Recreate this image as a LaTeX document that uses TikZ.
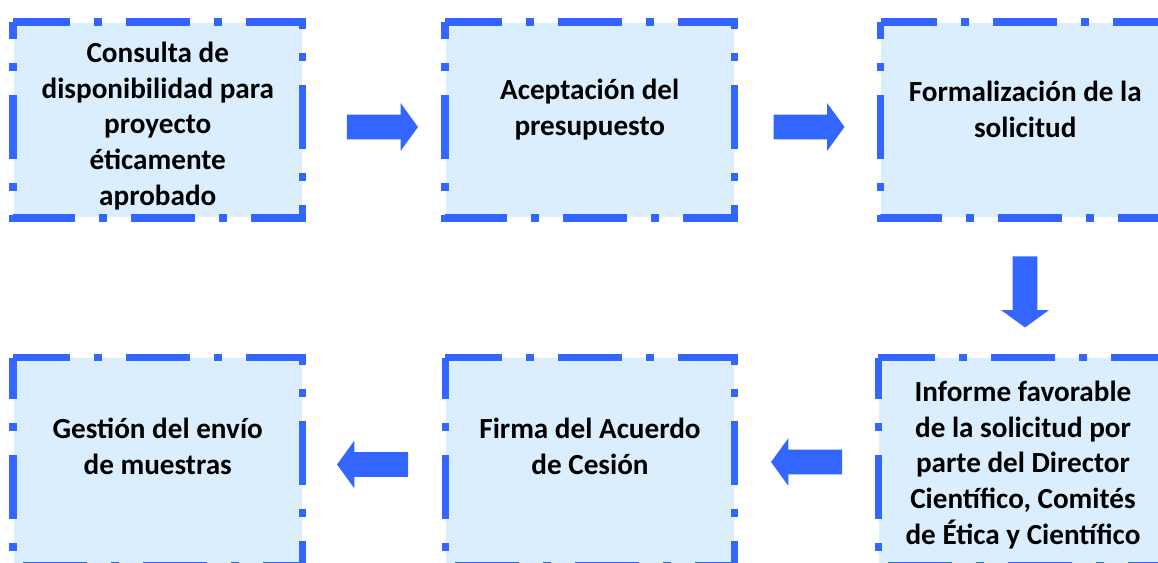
\documentclass[tikz,border=0pt]{standalone}
\usepackage{fontspec}
\setmainfont{Carlito}
\usetikzlibrary{shapes.arrows}
\definecolor{boxblue}{RGB}{51,102,255}
\definecolor{boxfill}{RGB}{218,238,253}

\begin{document}
\begin{tikzpicture}[x=0.02cm, y=-0.02cm,
    box/.style={rectangle, fill=boxfill, minimum width=5.77cm, minimum height=3.9cm, inner sep=0pt},
    tall/.style={minimum height=4.14cm},
    rim/.style={draw=boxblue, line width=0.15cm, dash pattern=on 1.28cm off 0.48cm on 0.16cm off 0.48cm, dash phase=0.15cm},
    txt/.style={font=\fontsize{16.6}{20.4}\selectfont\bfseries, align=center, inner sep=0pt},
    blk/.style={single arrow, fill=boxblue, minimum height=1.42cm, inner sep=0.24cm, single arrow head extend=0.23cm, single arrow tip angle=108}]
            \useasboundingbox (0,0) rectangle (1158,563);
            \node[box] (a) at (157.75,120) {};
            \node[box] (b) at (589.75,120) {};
            \node[box] (c) at (1025.25,120) {};
            \node[box,tall] (d) at (1023,461.5) {};
            \node[box,tall] (e) at (590,461.5) {};
            \node[box,tall] (f) at (157.75,461.5) {};
            \draw[rim] (a.north west) -- (a.north east) -- (a.south east) -- (a.south west) -- cycle;
            \draw[rim] (b.north west) -- (b.north east) -- (b.south east) -- (b.south west) -- cycle;
            \draw[rim] (c.north west) -- (c.north east) -- (c.south east) -- (c.south west) -- cycle;
            \draw[rim] (d.north west) -- (d.north east) -- (d.south east) -- (d.south west) -- cycle;
            \draw[rim] (e.north west) -- (e.north east) -- (e.south east) -- (e.south west) -- cycle;
            \draw[rim] (f.north west) -- (f.north east) -- (f.south east) -- (f.south west) -- cycle;
            \node[txt] (ta) at (157.75,126) {Consulta de\\disponibilidad para\\proyecto\\éticamente\\aprobado};
            \node[txt] (tb) at (589.75,109.5) {Aceptación del\\presupuesto};
            \node[txt] (tc) at (1025.25,109.5) {Formalización de la\\solicitud};
            \node[txt] (td) at (1023,465) {Informe favorable\\de la solicitud por\\parte del Director\\Científico, Comités\\de Ética y Científico};
            \node[txt] (te) at (590,446) {Firma del Acuerdo\\de Cesión};
            \node[txt] (tf) at (157.75,446) {Gestión del envío\\de muestras};
            \node[blk] (ab) at (378,127) {};
            \node[blk] (bc) at (804.5,127) {};
            \node[blk,shape border rotate=270] (cd) at (1025,287.5) {};
            \node[blk,shape border rotate=180] (de) at (811,462) {};
            \node[blk,shape border rotate=180] (ef) at (377,464.5) {};
        \end{tikzpicture}
\end{document}
